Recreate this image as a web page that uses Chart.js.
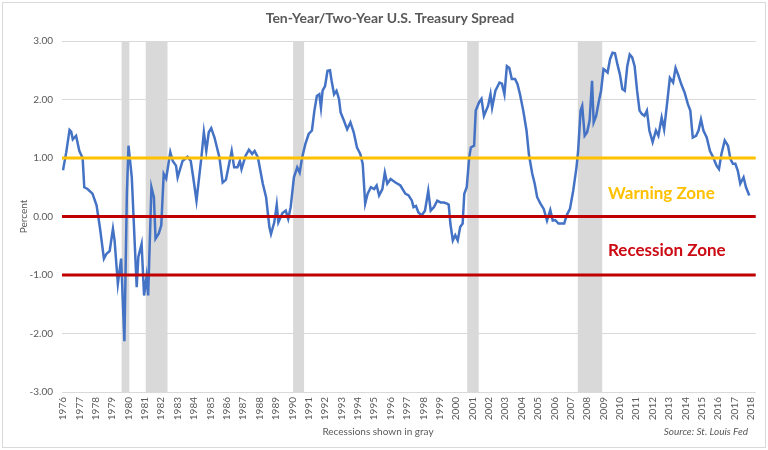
<!DOCTYPE html>
<html>
<head>
<meta charset="utf-8">
<script src="https://cdn.jsdelivr.net/npm/chart.js@4/dist/chart.umd.min.js"></script>
<style>
  html, body { margin: 0; padding: 0; background: #fff; }
  canvas { display: block; }
</style>
</head>
<body>
<canvas id="spread" width="768" height="450"></canvas>
<script>
// decimal year of each reading
const dates = [
  1976.50, 1976.70, 1976.90, 1977.00, 1977.10, 1977.30, 1977.50, 1977.70, 1977.80, 1978.00,
  1978.30, 1978.55, 1978.75, 1979.00, 1979.15, 1979.35, 1979.55, 1979.65, 1979.85, 1980.05,
  1980.25, 1980.40, 1980.50, 1980.70, 1981.00, 1981.10, 1981.30, 1981.45, 1981.60, 1981.70,
  1981.90, 1982.05, 1982.15, 1982.35, 1982.50, 1982.65, 1982.80, 1983.05, 1983.20, 1983.40,
  1983.50, 1983.80, 1984.10, 1984.30, 1984.45, 1984.65, 1984.95, 1985.10, 1985.25, 1985.40,
  1985.55, 1985.75, 1986.05, 1986.25, 1986.45, 1986.60, 1986.80, 1986.95, 1987.15, 1987.30,
  1987.40, 1987.65, 1987.85, 1988.05, 1988.20, 1988.40, 1988.70, 1988.90, 1989.10, 1989.20,
  1989.40, 1989.55, 1989.65, 1989.90, 1990.10, 1990.25, 1990.40, 1990.60, 1990.80, 1990.95,
  1991.10, 1991.30, 1991.50, 1991.70, 1991.85, 1992.00, 1992.15, 1992.25, 1992.35, 1992.50,
  1992.65, 1992.80, 1992.90, 1993.05, 1993.20, 1993.35, 1993.45, 1993.65, 1993.85, 1994.05,
  1994.25, 1994.45, 1994.65, 1994.80, 1994.95, 1995.10, 1995.30, 1995.50, 1995.65, 1995.80,
  1996.00, 1996.15, 1996.30, 1996.50, 1996.80, 1997.10, 1997.40, 1997.60, 1997.80, 1997.90,
  1998.05, 1998.20, 1998.40, 1998.60, 1998.80, 1998.95, 1999.15, 1999.35, 1999.55, 1999.75,
  1999.95, 2000.05, 2000.15, 2000.30, 2000.45, 2000.60, 2000.75, 2000.90, 2001.00, 2001.15,
  2001.30, 2001.40, 2001.60, 2001.70, 2001.90, 2002.05, 2002.20, 2002.45, 2002.60, 2002.70,
  2002.90, 2003.15, 2003.30, 2003.45, 2003.60, 2003.75, 2003.90, 2004.10, 2004.25, 2004.40,
  2004.60, 2004.80, 2004.95, 2005.15, 2005.30, 2005.45, 2005.65, 2005.85, 2006.05, 2006.25,
  2006.40, 2006.55, 2006.75, 2006.95, 2007.10, 2007.25, 2007.45, 2007.65, 2007.85, 2007.95,
  2008.10, 2008.20, 2008.35, 2008.50, 2008.65, 2008.80, 2008.90, 2009.05, 2009.20, 2009.35,
  2009.50, 2009.60, 2009.75, 2009.90, 2010.05, 2010.20, 2010.35, 2010.50, 2010.65, 2010.80,
  2010.95, 2011.10, 2011.25, 2011.40, 2011.55, 2011.70, 2011.85, 2012.00, 2012.15, 2012.30,
  2012.50, 2012.70, 2012.85, 2013.05, 2013.20, 2013.40, 2013.55, 2013.75, 2013.90, 2014.05,
  2014.25, 2014.45, 2014.65, 2014.80, 2014.95, 2015.15, 2015.30, 2015.45, 2015.60, 2015.80,
  2016.00, 2016.20, 2016.40, 2016.55, 2016.70, 2016.90, 2017.10, 2017.25, 2017.40, 2017.55,
  2017.70, 2017.85, 2018.05, 2018.20, 2018.40
];

// 10y minus 2y, percent
const spread = [
   0.79,  1.10,  1.48,  1.45,  1.32,  1.38,  1.12,  1.00,  0.50,  0.47,
   0.39,  0.19, -0.18, -0.72, -0.64, -0.59, -0.21, -0.41, -1.15, -0.72,
  -2.13,  0.39,  1.21,  0.67, -1.21, -0.69, -0.47, -1.35, -1.03, -1.35,
   0.50,  0.33, -0.38, -0.29, -0.15,  0.73,  0.65,  1.10,  0.95,  0.87,
   0.67,  0.95,  1.02,  0.95,  0.67,  0.27,  1.01,  1.44,  1.12,  1.44,
   1.51,  1.35,  1.01,  0.58,  0.63,  0.84,  1.12,  0.84,  0.84,  0.95,
   0.81,  1.04,  1.14,  1.07,  1.12,  1.01,  0.56,  0.33, -0.18, -0.30,
  -0.10,  0.20, -0.10,  0.06,  0.10, -0.04,  0.16,  0.67,  0.84,  0.75,
   1.01,  1.24,  1.41,  1.47,  1.81,  2.06,  2.09,  1.86,  2.15,  2.23,
   2.49,  2.50,  2.32,  2.09,  2.15,  2.01,  1.78,  1.64,  1.49,  1.61,
   1.44,  1.18,  1.07,  0.90,  0.22,  0.39,  0.50,  0.47,  0.53,  0.36,
   0.47,  0.75,  0.56,  0.64,  0.58,  0.53,  0.39,  0.36,  0.27,  0.16,
   0.18,  0.07,  0.02,  0.10,  0.44,  0.10,  0.16,  0.27,  0.24,  0.24,
   0.22,  0.20, -0.12, -0.41, -0.32, -0.41, -0.18, -0.12,  0.39,  0.50,
   1.01,  1.18,  1.21,  1.81,  1.95,  2.01,  1.72,  1.89,  2.09,  1.86,
   2.15,  2.29,  2.27,  2.09,  2.57,  2.54,  2.35,  2.35,  2.26,  2.09,
   1.81,  1.47,  1.05,  0.73,  0.56,  0.33,  0.22,  0.13, -0.07,  0.11,
  -0.07, -0.06, -0.12, -0.12, -0.12,  0.02,  0.13,  0.44,  0.84,  1.12,
   1.81,  1.89,  1.38,  1.44,  1.64,  2.32,  1.61,  1.72,  1.95,  2.15,
   2.52,  2.50,  2.46,  2.69,  2.80,  2.79,  2.60,  2.43,  2.18,  2.15,
   2.57,  2.77,  2.72,  2.57,  2.15,  1.81,  1.75,  1.72,  1.81,  1.47,
   1.27,  1.47,  1.38,  1.69,  1.49,  1.98,  2.37,  2.29,  2.54,  2.43,
   2.26,  2.12,  1.92,  1.81,  1.35,  1.38,  1.47,  1.66,  1.47,  1.35,
   1.12,  1.01,  0.87,  0.81,  1.07,  1.30,  1.21,  0.98,  0.90,  0.90,
   0.78,  0.56,  0.67,  0.50,  0.36
];

const yearTicks = [
  1976, 1977, 1978, 1979, 1980, 1981, 1982, 1983, 1984, 1985, 1986,
  1987, 1988, 1989, 1990, 1991, 1992, 1993, 1994, 1995, 1996, 1997,
  1998, 1999, 2000, 2001, 2002, 2003, 2004, 2005, 2006, 2007, 2008,
  2009, 2010, 2011, 2012, 2013, 2014, 2015, 2016, 2017, 2018
];

const recessionStarts = [1980.08, 1981.55, 1990.55, 2001.18, 2007.93];
const recessionEnds   = [1980.55, 1982.88, 1991.22, 2001.88, 2009.42];

const warningLevel = 1;
const recessionLevels = [0, -1];

const xMin = 1976.44;
const xMax = 2018.80;

const blue = "#4472C4";
const gold = "#FFC000";
const red = "#C00000";
const textGray = "#595959";

const levelLine = (level, color) => ({
  data: [{ x: xMin, y: level }, { x: xMax, y: level }],
  borderColor: color,
  borderWidth: 3,
  pointRadius: 0,
  order: 0,
});

const recessionBands = {
  id: "recessionBands",
  beforeDatasetsDraw(chart) {
    const { ctx, chartArea, scales } = chart;
    ctx.save();
    ctx.fillStyle = "#d9d9d9";
    recessionStarts.forEach((start, i) => {
      const x0 = scales.x.getPixelForValue(start);
      const x1 = scales.x.getPixelForValue(recessionEnds[i]);
      ctx.fillRect(x0, chartArea.top, x1 - x0, chartArea.bottom - chartArea.top);
    });
    ctx.restore();
  },
};

const decorations = {
  id: "decorations",
  beforeDraw(chart) {
    const { ctx, width, height } = chart;
    ctx.save();
    ctx.fillStyle = "#fff";
    ctx.fillRect(0, 0, width, height);
    ctx.strokeStyle = "#d9d9d9";
    ctx.lineWidth = 1;
    ctx.strokeRect(2.5, 2.5, width - 5, height - 5);
    ctx.restore();
  },
  afterDraw(chart) {
    const { ctx, scales } = chart;
    ctx.save();
    ctx.textBaseline = "middle";

    ctx.fillStyle = textGray;
    ctx.textAlign = "center";
    ctx.font = "bold 14px Lato";
    ctx.fillText("Ten-Year/Two-Year U.S. Treasury Spread", 390, 18);

    ctx.font = "10px Lato";
    ctx.fillText("Recessions shown in gray", 378, 432);
    ctx.textAlign = "right";
    ctx.font = "italic 10px Lato";
    ctx.fillText("Source: St. Louis Fed", 748, 432);

    ctx.save();
    ctx.translate(24, scales.y.getPixelForValue(0));
    ctx.rotate(-Math.PI / 2);
    ctx.textAlign = "center";
    ctx.font = "10px Lato";
    ctx.fillText("Percent", 0, 0);
    ctx.restore();

    ctx.textAlign = "left";
    ctx.font = "bold 17px Lato";
    ctx.fillStyle = gold;
    ctx.fillText("Warning Zone", 608, scales.y.getPixelForValue(0.4));
    ctx.fillStyle = "#CC0A14";
    ctx.fillText("Recession Zone", 608, scales.y.getPixelForValue(-0.58));
    ctx.restore();
  },
};

new Chart(document.getElementById("spread"), {
  type: "line",
  data: {
    datasets: [
      levelLine(warningLevel, gold),
      levelLine(recessionLevels[0], red),
      levelLine(recessionLevels[1], red),
      {
        data: dates.map((d, i) => ({ x: d, y: spread[i] })),
        borderColor: blue,
        borderWidth: 2.5,
        pointRadius: 0,
        tension: 0,
        order: 1,
      },
    ],
  },
  options: {
    responsive: false,
    animation: false,
    events: [],
    layout: { padding: { top: 41, right: 10, left: 0, bottom: 0 } },
    plugins: {
      legend: { display: false },
      tooltip: { enabled: false },
    },
    scales: {
      x: {
        type: "linear",
        min: xMin,
        max: xMax,
        afterFit: (scale) => { scale.height = 58; },
        afterBuildTicks: (scale) => {
          scale.ticks = yearTicks.map((y) => ({ value: y + 0.5 }));
        },
        grid: { display: false, drawTicks: false },
        border: { display: false },
        ticks: {
          autoSkip: false,
          minRotation: 90,
          maxRotation: 90,
          padding: 5,
          color: textGray,
          font: { family: "Lato", size: 10 },
          callback: (value) => String(Math.floor(value)),
        },
      },
      y: {
        min: -3,
        max: 3,
        afterFit: (scale) => { scale.width = 62; },
        grid: { color: "#d9d9d9", lineWidth: 1, drawTicks: false },
        border: { display: false },
        ticks: {
          stepSize: 1,
          padding: 9,
          color: textGray,
          font: { family: "Lato", size: 10 },
          callback: (value) => value.toFixed(2),
        },
      },
    },
  },
  plugins: [recessionBands, decorations],
});
</script>
</body>
</html>
